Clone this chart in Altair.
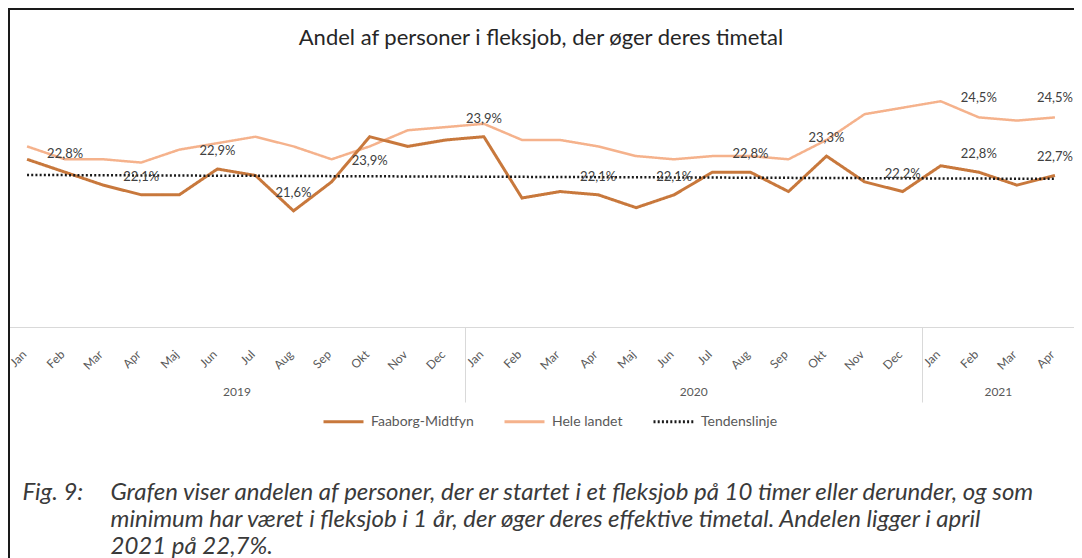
import json
import altair as alt
import pandas as pd

# ---------------- data ----------------
months = ["Jan", "Feb", "Mar", "Apr", "Maj", "Jun", "Jul", "Aug", "Sep", "Okt", "Nov", "Dec",
          "Jan", "Feb", "Mar", "Apr", "Maj", "Jun", "Jul", "Aug", "Sep", "Okt", "Nov", "Dec",
          "Jan", "Feb", "Mar", "Apr"]
years = ["2019"] * 12 + ["2020"] * 12 + ["2021"] * 4

faaborg = [23.2, 22.8, 22.4, 22.1, 22.1, 22.9, 22.7, 21.6, 22.5, 23.9, 23.6, 23.8,
           23.9, 22.0, 22.2, 22.1, 21.7, 22.1, 22.8, 22.8, 22.2, 23.3, 22.5, 22.2,
           23.0, 22.8, 22.4, 22.7]
hele_landet = [23.6, 23.2, 23.2, 23.1, 23.5, 23.7, 23.9, 23.6, 23.2, 23.6, 24.1, 24.2,
               24.3, 23.8, 23.8, 23.6, 23.3, 23.2, 23.3, 23.3, 23.2, 23.8, 24.6, 24.8,
               25.0, 24.5, 24.4, 24.5]

series_names = ["Faaborg-Midtfyn", "Hele landet", "Tendenslinje"]

# months (index) that carry a data label
faaborg_labels_above = [1, 3, 5, 7, 12, 15, 17, 19, 21, 23, 25, 27]
faaborg_labels_below = [9]
hele_labels_above = [25, 27]

title_text = "Andel af personer i fleksjob, der øger deres timetal"
caption_head = "Fig. 9:"
caption_lines = [
    "Grafen viser andelen af personer, der er startet i et fleksjob på 10 timer eller derunder, og som",
    "minimum har været i fleksjob i 1 år, der øger deres effektive timetal. Andelen ligger i april",
    "2021 på 22,7%.",
]

# ---------------- derived tables ----------------
n = len(months)
rows = []
for i in range(n):
    rows.append({"i": i, "serie": series_names[0], "v": faaborg[i]})
    rows.append({"i": i, "serie": series_names[1], "v": hele_landet[i]})
df = pd.DataFrame(rows)

year_names = []
for y in years:
    if y not in year_names:
        year_names.append(y)
year_first = [years.index(y) for y in year_names]
year_last = [len(years) - 1 - years[::-1].index(y) for y in year_names]
year_centers = [(a + b) / 2 for a, b in zip(year_first, year_last)]
dividers = [a - 0.5 for a in year_first] + [year_last[-1] + 0.5]

FONT = "Lato"
CAP_FONT = "Lato"
GREY = "#595959"
colors = ["#C8783C", "#F5B28C", "#1a1a1a"]
dashes = [[1, 0], [1, 0], [2, 2.2]]

x_scale = alt.Scale(domain=[-0.5, n - 0.5], nice=False, zero=False)
y_scale = alt.Scale(domain=[18, 26], nice=False, zero=False)
color_scale = alt.Scale(domain=series_names, range=colors)
dash_scale = alt.Scale(domain=series_names, range=dashes)

legend = alt.Legend(
    title=None, orient="none", legendX=314, legendY=331, direction="horizontal",
    symbolType="stroke", symbolSize=1600, symbolStrokeWidth=3,
    labelFont=FONT, labelFontSize=14, labelColor=GREY, columnPadding=24,
    labelOffset=6,
)

month_axis = alt.Axis(
    orient="bottom", values=list(range(n)),
    labelExpr=json.dumps(months) + "[datum.value]",
    labelAngle=-45, labelAlign="right", labelBaseline="middle",
    labelPadding=25, labelOffset=-3, labelFont=FONT, labelFontSize=12,
    labelColor=GREY, ticks=False, grid=False, domain=True,
    domainColor="#D9D9D9", domainWidth=1, labelOverlap=False,
    title=caption_lines, titleX=102, titleY=172, titleAlign="left",
    titleAnchor="start", titleBaseline="alphabetic", titleFont=CAP_FONT,
    titleFontSize=24, titleFontStyle="italic", titleFontWeight="normal",
    titleColor="#3a3a3a", titleLineHeight=27,
)

year_axis = alt.Axis(
    orient="bottom", values=year_centers,
    labelExpr=json.dumps(year_names) + "[indexof(" + json.dumps(year_centers) + ", datum.value)]",
    labelAngle=0, labelAlign="center", labelBaseline="middle", labelPadding=64,
    labelFont=FONT, labelFontSize=12, labelColor=GREY, ticks=False, grid=False,
    domain=False, labelOverlap=False,
    title=caption_head, titleX=14, titleY=172, titleAlign="left", titleAnchor="start",
    titleBaseline="alphabetic", titleFont=CAP_FONT, titleFontSize=24,
    titleFontStyle="italic", titleFontWeight="normal", titleColor="#3a3a3a",
)

divider_axis = alt.Axis(
    orient="bottom", values=dividers, labels=False, ticks=True, tickSize=75,
    tickColor="#D9D9D9", tickWidth=1, grid=False, domain=False, title=None,
)

base = alt.Chart(df)

hele_line = base.transform_filter(alt.datum.serie == series_names[1]).mark_line(
    strokeWidth=2.5
).encode(
    x=alt.X("i:Q", scale=x_scale, axis=year_axis),
    y=alt.Y("v:Q", scale=y_scale, axis=None),
    color=alt.Color("serie:N", scale=color_scale, legend=legend),
    strokeDash=alt.StrokeDash("serie:N", scale=dash_scale, legend=legend),
)

faaborg_line = base.transform_filter(alt.datum.serie == series_names[0]).mark_line(
    strokeWidth=3
).encode(
    x=alt.X("i:Q", scale=x_scale, axis=month_axis),
    y=alt.Y("v:Q", scale=y_scale, axis=None),
    color=alt.Color("serie:N", scale=color_scale, legend=legend),
    strokeDash=alt.StrokeDash("serie:N", scale=dash_scale, legend=legend),
)

trend = base.transform_filter(alt.datum.serie == series_names[0]).transform_regression(
    "i", "v"
).transform_calculate(serie="'" + series_names[2] + "'").mark_line(strokeWidth=2.5).encode(
    x=alt.X("i:Q", scale=x_scale, axis=divider_axis),
    y=alt.Y("v:Q", scale=y_scale, axis=None),
    color=alt.Color("serie:N", scale=color_scale, legend=legend),
    strokeDash=alt.StrokeDash("serie:N", scale=dash_scale, legend=legend),
)

label_expr = "replace(format(datum.v, '.1f'), '.', ',') + '%'"


def labels(serie, idx, dy):
    return base.transform_filter(alt.datum.serie == serie).transform_filter(
        alt.FieldOneOfPredicate(field="i", oneOf=idx)
    ).transform_calculate(lab=label_expr).mark_text(
        font=FONT, fontSize=13, color="#404040", dy=dy, baseline="middle"
    ).encode(
        x=alt.X("i:Q", scale=x_scale, axis=None),
        y=alt.Y("v:Q", scale=y_scale, axis=None),
        text="lab:N",
    )


lab1 = labels(series_names[0], faaborg_labels_above, -18)
lab2 = labels(series_names[0], faaborg_labels_below, 24)
lab3 = labels(series_names[1], hele_labels_above, -19)

frame = alt.Chart(pd.DataFrame({"f": [0]})).mark_rect(
    fill=None, stroke="#1a1a1a", strokeWidth=2
).encode(
    x=alt.value(1), x2=alt.value(1300), y=alt.value(-60), y2=alt.value(700)
)

chart = alt.layer(
    hele_line, faaborg_line, trend, lab1, lab2, lab3, frame
).resolve_axis(x="independent").properties(
    width=1066, height=258,
    autosize=alt.AutoSizeParams(type="none"),
    padding={"left": 0, "top": 61, "right": 0, "bottom": 231},
    background="white",
    title=alt.TitleParams(
        title_text, font=FONT, fontSize=22, fontWeight="normal", color="#262626",
        anchor="middle", offset=0, dy=42,
    ),
).configure_view(strokeWidth=0)

chart.save("out.html", embed_options={"renderer": "svg", "actions": False})
